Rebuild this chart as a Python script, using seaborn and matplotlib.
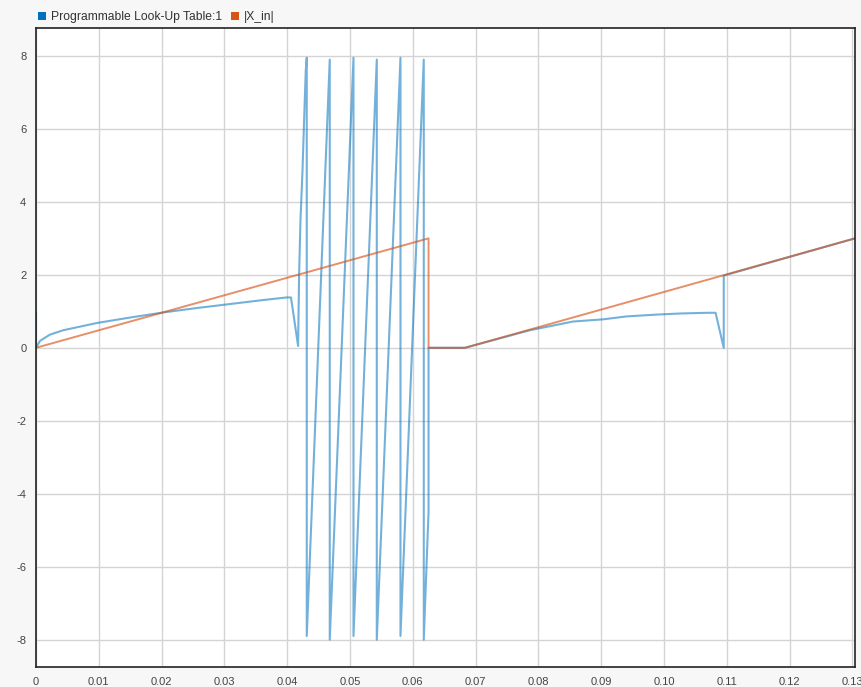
import numpy as np
import pandas as pd
import seaborn as sns
import matplotlib.pyplot as plt
from matplotlib.patches import Patch

# |X_in| : ramp, reset, hold, ramp again
xin_t = [0.0, 0.0625, 0.0625, 0.0683, 0.1304]
xin_y = [0.0, 3.0, 0.0, 0.0, 3.0]

# lookup output, first part (sqrt-like rise, then falls to 0)
lut_head_t = [0.0, 0.0, 0.00064, 0.0022, 0.0043, 0.0097, 0.015, 0.0203, 0.0256,
              0.0309, 0.0362, 0.0399, 0.0406, 0.04173,
              0.04189, 0.04211, 0.04243, 0.04268, 0.04295]
lut_head_y = [0.97, 0.0, 0.19, 0.36, 0.48, 0.68, 0.83, 0.97, 1.09,
              1.2, 1.31, 1.38, 1.38, 0.05,
              2.0, 3.5, 4.85, 6.2, 7.6]

# wrap-around drops of the sawtooth section
wrap_t = [0.04311, 0.04677, 0.05055, 0.05426, 0.05803, 0.06174]
wrap_top = [7.95, 7.9, 7.95, 7.9, 7.95, 7.9]
wrap_bot = [-7.9, -8.0, -7.9, -8.0, -7.9, -8.0]

# lookup output, last part
lut_tail_t = [0.0625, 0.0625, 0.0683, 0.0786, 0.0855, 0.0903, 0.094, 0.0988,
              0.1025, 0.107, 0.1082, 0.1095, 0.1095, 0.1304]
lut_tail_y = [-4.5, 0.0, 0.0, 0.48, 0.72, 0.78, 0.86, 0.91,
              0.94, 0.96, 0.96, 0.0, 1.98, 3.0]

x_ticks = [0, 0.01, 0.02, 0.03, 0.04, 0.05, 0.06, 0.07, 0.08, 0.09, 0.10, 0.11, 0.12, 0.13]
x_labels = ['0', '0.01', '0.02', '0.03', '0.04', '0.05', '0.06', '0.07', '0.08',
            '0.09', '0.10', '0.11', '0.12', '0.13']
y_ticks = [-8, -6, -4, -2, 0, 2, 4, 6, 8]

# build the sawtooth path from the wrap points
saw_t, saw_y = [], []
for t, top, bot in zip(wrap_t, wrap_top, wrap_bot):
    saw_t += [t, t]
    saw_y += [top, bot]

lut = pd.DataFrame({'t': lut_head_t + saw_t + lut_tail_t,
                    'y': lut_head_y + saw_y + lut_tail_y})
xin = pd.DataFrame({'t': xin_t, 'y': xin_y})

sns.set_style('white')
plt.rcParams['font.family'] = ['Liberation Sans', 'DejaVu Sans']
plt.rcParams['axes.unicode_minus'] = False

fig = plt.figure(figsize=(8.62, 6.87), dpi=100, facecolor='#f7f7f7')
ax = fig.add_axes([36 / 862, 1 - 667 / 687, (855 - 36) / 862, (667 - 27.5) / 687])
ax.set_facecolor('white')

blue = '#0072BD'
orange = '#D95319'
sns.lineplot(data=lut, x='t', y='y', sort=False, estimator=None, ax=ax,
             color=blue, alpha=0.55, lw=1.5)
sns.lineplot(data=xin, x='t', y='y', sort=False, estimator=None, ax=ax,
             color=orange, alpha=0.65, lw=1.4)

ax.set_xlim(0, 0.1304)
ax.set_ylim(-8.75, 8.78)
ax.set_xticks(x_ticks)
ax.set_xticklabels(x_labels)
ax.set_yticks(y_ticks)
ax.set_xlabel('')
ax.set_ylabel('')
ax.grid(True, color='#d4d4d4', lw=1)
ax.set_axisbelow(True)
ax.tick_params(axis='both', labelsize=8, colors='#444444', length=3, width=0.8,
               direction='out', pad=4)
for s in ax.spines.values():
    s.set_color('#222222')
    s.set_linewidth(1.2)
    s.set_visible(True)

handles = [Patch(facecolor=blue, edgecolor='none', label='Programmable Look-Up Table:1'),
           Patch(facecolor=orange, edgecolor='none', label='|X_in|')]
ax.legend(handles=handles, loc='lower left', bbox_to_anchor=(-0.003, 1.0), ncol=2,
          frameon=False, handlelength=0.65, handleheight=0.65, handletextpad=0.45,
          columnspacing=0.7, borderaxespad=0.25, borderpad=0.1,
          prop={'size': 8.7}, labelcolor='#333333')

fig.savefig('out.png', dpi=100, facecolor=fig.get_facecolor())
